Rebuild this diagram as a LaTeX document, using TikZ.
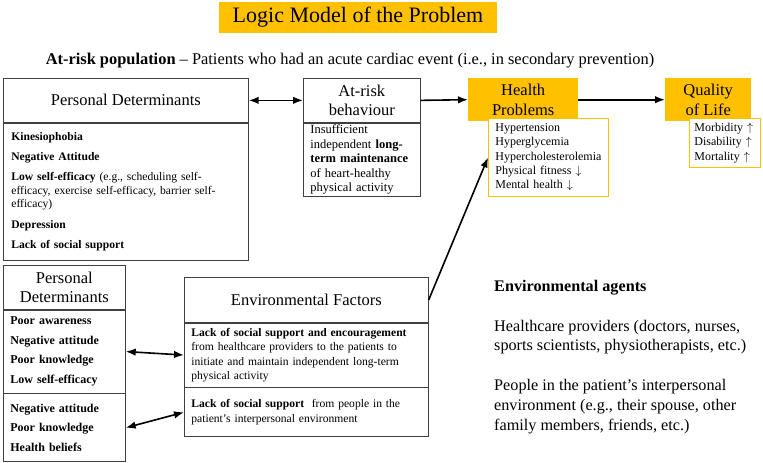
\documentclass[tikz,border=0pt]{standalone}
\usepackage{fontspec}
\setmainfont{Liberation Serif}
\usetikzlibrary{positioning, arrows, arrows.meta}
\definecolor{gold}{HTML}{FFC000}

\begin{document}
\begin{tikzpicture}[x=1pt, y=-1pt,
    hd/.style={draw=black!75, line width=0.7pt, align=center, inner sep=2pt,
        font=\fontsize{16.5}{19.5}\selectfont},
    bd/.style={draw=black!75, line width=0.7pt, align=left, inner xsep=7pt, inner ysep=2pt,
        anchor=north west, font=\fontsize{12}{14.5}\selectfont},
    goldhd/.style={fill=gold, align=center, inner sep=2pt, anchor=north west,
        font=\fontsize{16.5}{19.5}\selectfont},
    goldbd/.style={draw=gold, fill=white, line width=0.9pt, align=left, inner xsep=7pt,
        inner ysep=2pt, anchor=north west, font=\fontsize{12}{14.3}\selectfont},
    link/.style={line width=1.6pt, -{Latex[length=10pt,width=7.5pt]}},
    twoway/.style={line width=1.6pt, {Latex[length=10pt,width=7.5pt]}-{Latex[length=10pt,width=7.5pt]}}]
\useasboundingbox (0,0) rectangle (763,463);

% title and population
\node[fill=gold, minimum width=278, minimum height=31, font=\fontsize{22}{26}\selectfont]
    (title) at (358,17.5) {Logic Model of the Problem};
\node[font=\fontsize{16.4}{19}\selectfont] (pop) at (350,61)
    {\textbf{At-risk population} -- Patients who had an acute cardiac event (i.e., in secondary prevention)};

% upper row
\node[hd, anchor=north west, minimum width=245, minimum height=44] (pdhead) at (3,78)
    {Personal Determinants};
\node[bd, text width=229, inner xsep=8pt, minimum height=137, font=\fontsize{11.6}{13.6}\selectfont] (pdbody) at (pdhead.south west)
    {\textbf{Kinesiophobia}\\[6.5pt]
     \textbf{Negative Attitude}\\[6.5pt]
     \textbf{Low self-efficacy} (e.g., scheduling self-\\
     efficacy, exercise self-efficacy, barrier self-\\
     efficacy)\\[6.5pt]
     \textbf{Depression}\\[6.5pt]
     \textbf{Lack of social support}};

\node[hd, anchor=north west, minimum width=117, minimum height=44] (arbhead) at (303,78)
    {At-risk\\behaviour};
\node[bd, text width=103, minimum height=73, font=\fontsize{12.5}{14.5}\selectfont] (arbbody) at (arbhead.south west)
    {Insufficient\\independent \textbf{long-}\\\textbf{term maintenance}\\of heart-healthy\\physical activity};

\node[goldhd, minimum width=110, minimum height=43] (hphead) at (468,78) {Health\\Problems};
\node[goldbd, text width=106, minimum height=78] (hpbody) at (488,118)
    {Hypertension\\Hyperglycemia\\Hypercholesterolemia\\Physical fitness $\downarrow$\\Mental health $\downarrow$};

\node[goldhd, minimum width=86, minimum height=43] (qolhead) at (665,78) {Quality\\of Life};
\node[goldbd, text width=61, inner xsep=5pt, minimum height=49] (qolbody) at (689,118)
    {Morbidity~$\uparrow$\\Disability~$\uparrow$\\Mortality~$\uparrow$};

% lower row
\node[hd, anchor=north west, minimum width=122, minimum height=44] (lpdhead) at (3,265)
    {Personal\\Determinants};
\node[bd, text width=108, minimum height=83, font=\fontsize{12}{19.5}\selectfont] (lpdtop) at (lpdhead.south west)
    {\textbf{Poor awareness}\\\textbf{Negative attitude}\\\textbf{Poor knowledge}\\\textbf{Low self-efficacy}};
\node[bd, text width=108, minimum height=68, font=\fontsize{12}{19.5}\selectfont] (lpdbot) at (lpdtop.south west)
    {\textbf{Negative attitude}\\\textbf{Poor knowledge}\\\textbf{Health beliefs}};

\node[hd, anchor=north west, minimum width=244, minimum height=45] (envhead) at (184,277)
    {Environmental Factors};
\node[bd, text width=230, minimum height=64, font=\fontsize{11.6}{14.5}\selectfont] (envtop) at (envhead.south west)
    {\textbf{Lack of social support and encouragement}\\
     from healthcare providers to the patients to\\
     initiate and maintain independent long-term\\
     physical activity};
\node[bd, text width=230, minimum height=49, font=\fontsize{11.6}{14.5}\selectfont] (envbot) at (envtop.south west)
    {\textbf{Lack of social support}\ \ from people in the\\
     patient’s interpersonal environment};

% agents
\node[anchor=north west, align=left, inner sep=0pt, font=\fontsize{16.2}{19.8}\selectfont] (agents) at (494,280)
    {\textbf{Environmental agents}\\[19.8pt]
     Healthcare providers (doctors, nurses,\\
     sports scientists, physiotherapists, etc.)\\[19.8pt]
     People in the patient’s interpersonal\\
     environment (e.g., their spouse, other\\
     family members, friends, etc.)};

% connectors
\draw[twoway] (pdhead.east) -- (arbhead.west);
\draw[link] (arbhead.east) -- (hphead.west);
\draw[link] (hphead.east) -- (qolhead.west);
\draw[twoway] (lpdtop.east) -- (envtop.west);
\draw[twoway] (lpdbot.east) -- (envbot.west);
\draw[link] (envhead.east) -- (hpbody.west);
\end{tikzpicture}
\end{document}
